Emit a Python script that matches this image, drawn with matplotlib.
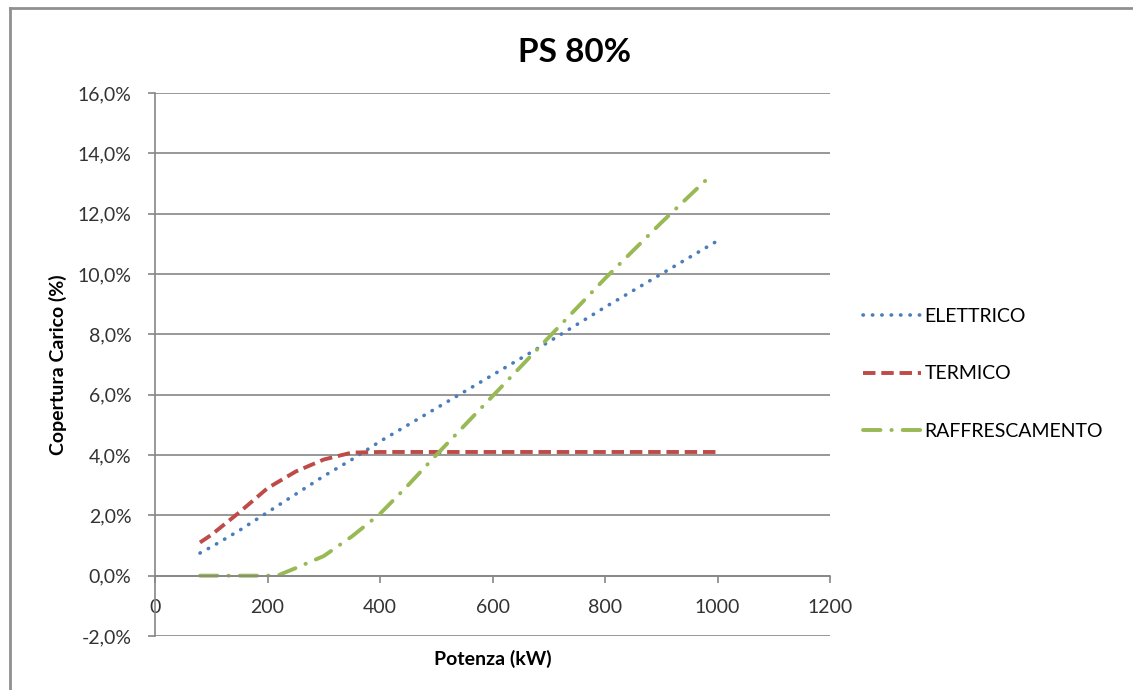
import matplotlib
matplotlib.use("Agg")
import matplotlib.pyplot as plt
from matplotlib.ticker import FuncFormatter, MultipleLocator
from matplotlib.lines import Line2D

plt.rcParams['font.family'] = ['Lato', 'DejaVu Sans']

# data (kW, % load coverage)
elettrico_kw = [80, 100, 150, 200, 250, 300, 350, 400, 500, 600, 700, 800, 900, 1000]
elettrico_pct = [0.75, 0.95, 1.5, 2.1, 2.7, 3.3, 3.85, 4.45, 5.55, 6.65, 7.75, 8.9, 10.0, 11.1]

termico_kw = [80, 100, 150, 200, 250, 300, 350, 400, 500, 600, 700, 800, 900, 1000]
termico_pct = [1.1, 1.35, 2.1, 2.9, 3.45, 3.85, 4.08, 4.1, 4.1, 4.1, 4.1, 4.1, 4.1, 4.1]

raff_kw = [80, 100, 150, 200, 220, 250, 300, 350, 400, 450, 500, 600, 700, 800, 900, 990]
raff_pct = [0.0, 0.0, 0.0, 0.0, 0.02, 0.25, 0.65, 1.3, 2.05, 3.0, 4.0, 5.95, 7.9, 9.85, 11.7, 13.3]

series_names = ["ELETTRICO", "TERMICO", "RAFFRESCAMENTO"]
colors = ["#4A7EBB", "#BE4B48", "#98B954"]

fig = plt.figure(figsize=(11.33, 6.9), dpi=100)
ax = fig.add_axes([155 / 1133, 1 - 636 / 690, (830 - 155) / 1133, (636 - 93) / 690])

grid_col = "#868686"
ax.plot(elettrico_kw, elettrico_pct, color=colors[0], lw=2.6,
        dashes=(0.1, 2.5), dash_capstyle="round", label=series_names[0])
ax.plot(termico_kw, termico_pct, color=colors[1], lw=2.8,
        dashes=(3.2, 1.5), label=series_names[1])
ax.plot(raff_kw, raff_pct, color=colors[2], lw=2.8,
        dashes=(4.5, 2.8, 0.1, 2.8), dash_capstyle="round", label=series_names[2])

ax.set_xlim(0, 1200)
ax.set_ylim(-2, 16)
ax.xaxis.set_major_locator(MultipleLocator(200))
ax.yaxis.set_major_locator(MultipleLocator(2))
ax.yaxis.set_major_formatter(FuncFormatter(lambda v, p: f"{v:.1f}%".replace(".", ",")))

ax.grid(axis="y", color=grid_col, lw=1.2)
ax.set_axisbelow(True)
for s in ["top", "right"]:
    ax.spines[s].set_visible(False)
ax.spines["bottom"].set_position(("data", 0))
ax.spines["bottom"].set_color(grid_col)
ax.spines["left"].set_color(grid_col)
ax.spines["bottom"].set_linewidth(1.2)
ax.spines["left"].set_linewidth(1.2)
ax.tick_params(axis="both", colors=grid_col, length=5, width=1.2, labelcolor="#333333",
               labelsize=14)
ax.tick_params(axis="x", pad=12)
ax.tick_params(axis="y", pad=12)

ax.set_xlabel("Potenza (kW)", fontsize=14, fontweight="bold", labelpad=0)
ax.xaxis.set_label_coords(0.5, -0.025)
ax.set_ylabel("Copertura Carico (%)", fontsize=14, fontweight="bold")
ax.yaxis.set_label_coords(-0.13, 0.5)

fig.text(574 / 1133, 1 - 52 / 690, "PS 80%", fontsize=24, fontweight="bold",
         ha="center", va="center")

ax.legend(loc="upper left", bbox_to_anchor=(845 / 1133, 1 - 290 / 690),
          bbox_transform=fig.transFigure, frameon=False, fontsize=14,
          handlelength=3.0, handletextpad=0.2, labelspacing=2.1)

# outer chart border (left and top only visible)
fig.add_artist(Line2D([10 / 1133, 10 / 1133], [0, 1 - 8 / 690], color="#909090", lw=2))
fig.add_artist(Line2D([10 / 1133, 1], [1 - 8 / 690, 1 - 8 / 690], color="#909090", lw=2))

fig.savefig("out.png", dpi=100)
